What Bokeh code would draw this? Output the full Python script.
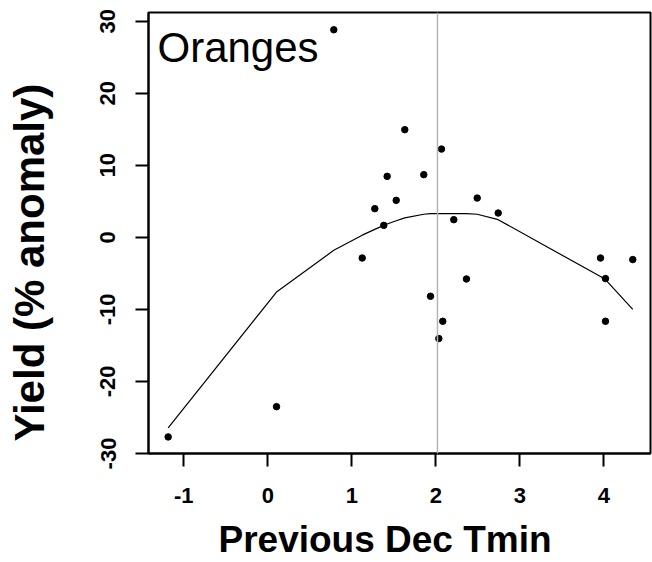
from bokeh.plotting import figure
from bokeh.models import Span, Label, FixedTicker, Range1d, Title, LinearAxis
from bokeh.embed import file_html
from bokeh.resources import INLINE

# ---- data ----
x_pts = [-1.186, 0.104, 0.786, 1.124, 1.274, 1.381, 1.421, 1.529, 1.631, 1.857, 1.937,
         2.036, 2.068, 2.083, 2.214, 2.365, 2.493, 2.743, 3.961, 4.020, 4.020, 4.345]
y_pts = [-27.7, -23.5, 28.8, -2.87, 3.98, 1.66, 8.46, 5.13, 14.94, 8.7, -8.18,
         -14.05, 12.25, -11.65, 2.45, -5.78, 5.45, 3.37, -2.87, -5.73, -11.65, -3.09]

fit_x = [-1.186, 0.104, 0.786, 1.124, 1.274, 1.381, 1.421, 1.529, 1.631, 1.857, 1.937,
         2.036, 2.068, 2.083, 2.214, 2.365, 2.493, 2.743, 3.961, 4.020, 4.345]
fit_y = [-26.45, -7.6, -1.8, 0.3, 1.1, 1.66, 1.85, 2.3, 2.7, 3.2, 3.29,
         3.3, 3.3, 3.3, 3.29, 3.29, 3.2, 2.45, -5.45, -5.87, -10.0]

ref_x = 2.02

x_ticks = [-1, 0, 1, 2, 3, 4]
x_tick_labels = ["-1", "0", "1", "2", "3", "4"]
y_ticks = [-30, -20, -10, 0, 10, 20, 30]
y_tick_labels = ["-30", "-20", "-10", "0", "10", "20", "30"]

panel_title = "Oranges"
x_title = "Previous Dec Tmin"
y_title = "Yield (% anomaly)"

FONT = "Liberation Sans"

p = figure(width=652, height=562,
           x_range=Range1d(-1.42, 4.556), y_range=Range1d(-30, 31.2),
           output_backend="svg", toolbar_location=None,
           min_border_left=148, min_border_right=2, min_border_top=12, min_border_bottom=109)

p.xgrid.visible = False
p.ygrid.visible = False
p.background_fill_color = "white"
p.border_fill_color = "white"
p.outline_line_color = "black"
p.outline_line_width = 2

for ax, ticks, labels in ((p.xaxis[0], x_ticks, x_tick_labels), (p.yaxis[0], y_ticks, y_tick_labels)):
    ax.ticker = FixedTicker(ticks=ticks)
    ax.major_label_overrides = {t: l for t, l in zip(ticks, labels)}
    ax.axis_line_width = 2
    ax.axis_line_color = "black"
    ax.major_tick_line_width = 2
    ax.major_tick_line_color = "black"
    ax.major_tick_out = 13
    ax.major_tick_in = 0
    ax.minor_tick_out = 0
    ax.minor_tick_in = 0
    ax.major_label_text_font = FONT
    ax.major_label_text_font_style = "bold"
    ax.major_label_text_font_size = "22px"
    ax.major_label_text_color = "black"

p.xaxis[0].major_label_standoff = 21
p.yaxis[0].major_label_standoff = 20
p.yaxis[0].major_label_orientation = "vertical"


def spacer(px):
    # an invisible axis used only to reserve room between the tick labels and the title
    return LinearAxis(ticker=FixedTicker(ticks=[0]), major_label_overrides={0: ""},
                      major_tick_out=px, major_tick_in=0,
                      minor_tick_out=0, minor_tick_in=0, major_label_standoff=0,
                      major_label_text_font_size="1px",
                      axis_line_color=None, major_tick_line_color=None,
                      minor_tick_line_color=None)


p.add_layout(spacer(45), "left")
p.add_layout(Title(text=y_title, text_font=FONT, text_font_style="bold",
                   text_font_size="42px", text_color="black",
                   align="left", offset=12, vertical_align="bottom", standoff=0), "left")
p.add_layout(spacer(13), "below")
p.add_layout(Title(text=x_title, text_font=FONT, text_font_style="bold",
                   text_font_size="37px", text_color="black",
                   align="left", offset=70, vertical_align="top", standoff=0), "below")

p.add_layout(Span(location=ref_x, dimension="height", line_color="#b4b4b4", line_width=1.5))

p.line(fit_x, fit_y, line_color="black", line_width=1.2)
p.scatter(x_pts, y_pts, marker="circle", size=6.5, fill_color="black", line_color="black")

p.add_layout(Label(x=-1.313, y=26.3, text=panel_title, text_font=FONT,
                   text_font_size="42px", text_color="black",
                   text_baseline="alphabetic", text_align="left"))

open("out.html", "w").write(file_html(p, INLINE))
